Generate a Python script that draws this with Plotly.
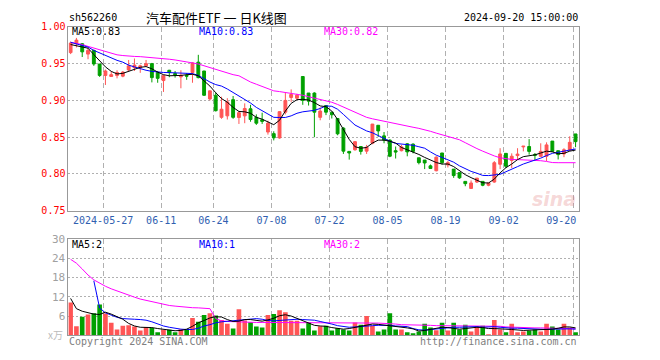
import plotly.graph_objects as go
import pandas as pd

# The page body adds an 8px margin; the figure is kept inside the 660x360 window
# (no overflow) and laid out in window pixels minus that margin.
OFF = 8
W, H = 660 - 2 * OFF, 360 - 2 * OFF - 4

# ---------------- data ----------------
holidays = ("2024-06-10", "2024-09-16", "2024-09-17")
dates = [d.strftime("%Y-%m-%d") for d in pd.bdate_range("2024-05-17", "2024-09-20")
         if d.strftime("%Y-%m-%d") not in holidays]

open_ = [0.965, 0.977, 0.977, 0.963, 0.968, 0.9495, 0.934, 0.9325, 0.934, 0.933,
         0.9415, 0.9445, 0.9445, 0.947, 0.950, 0.938, 0.927, 0.941, 0.9365, 0.932,
         0.9338, 0.938, 0.952, 0.940, 0.902, 0.907, 0.877, 0.879, 0.901, 0.8768,
         0.879, 0.8886, 0.877, 0.8737, 0.857, 0.8548, 0.849, 0.884, 0.904, 0.903,
         0.9325, 0.910, 0.910, 0.877, 0.893, 0.884, 0.8754, 0.8623, 0.8307, 0.8329,
         0.8373, 0.831, 0.8417, 0.8662, 0.8518, 0.846, 0.8316, 0.8316, 0.841, 0.8405,
         0.822, 0.8189, 0.811, 0.8044, 0.8285, 0.8123, 0.8066, 0.8018, 0.7899, 0.7803,
         0.789, 0.7899, 0.7846, 0.789, 0.8132, 0.828, 0.8184, 0.825, 0.8368, 0.8373,
         0.8263, 0.824, 0.8241, 0.8447, 0.8316, 0.8272, 0.8325, 0.8544]
high = [0.980, 0.985, 0.978, 0.971, 0.969, 0.9495, 0.942, 0.9395, 0.941, 0.940,
        0.955, 0.957, 0.9485, 0.955, 0.951, 0.940, 0.935, 0.9415, 0.940, 0.941,
        0.937, 0.952, 0.962, 0.940, 0.9135, 0.911, 0.905, 0.903, 0.906, 0.8855,
        0.896, 0.894, 0.881, 0.8833, 0.8724, 0.858, 0.8855, 0.910, 0.915, 0.909,
        0.9325, 0.910, 0.911, 0.8905, 0.893, 0.884, 0.8754, 0.8636, 0.8307, 0.8447,
        0.8373, 0.8395, 0.868, 0.8662, 0.857, 0.847, 0.8373, 0.8395, 0.842, 0.8417,
        0.822, 0.8189, 0.8128, 0.824, 0.8285, 0.8176, 0.8066, 0.8018, 0.7899, 0.7912,
        0.7943, 0.7899, 0.7877, 0.8175, 0.835, 0.828, 0.828, 0.835, 0.838, 0.8474,
        0.8285, 0.8417, 0.843, 0.8447, 0.8316, 0.835, 0.8513, 0.8544]
low = [0.963, 0.972, 0.959, 0.956, 0.947, 0.932, 0.921, 0.932, 0.930, 0.9315,
       0.940, 0.940, 0.9375, 0.9455, 0.9245, 0.924, 0.9115, 0.9315, 0.931, 0.9165,
       0.928, 0.924, 0.930, 0.906, 0.900, 0.885, 0.875, 0.874, 0.875, 0.868,
       0.869, 0.871, 0.8667, 0.868, 0.8535, 0.8456, 0.848, 0.881, 0.898, 0.901,
       0.894, 0.893, 0.850, 0.873, 0.880, 0.8754, 0.8526, 0.8272, 0.8195, 0.8316,
       0.8263, 0.8272, 0.8404, 0.8504, 0.8417, 0.8228, 0.821, 0.8307, 0.824, 0.828,
       0.813, 0.8066, 0.8075, 0.8035, 0.8128, 0.8088, 0.7947, 0.7934, 0.7833, 0.7803,
       0.7877, 0.7833, 0.7833, 0.788, 0.8066, 0.808, 0.808, 0.8197, 0.8307, 0.8263,
       0.8184, 0.823, 0.8175, 0.830, 0.8197, 0.8228, 0.8316, 0.8364]
close = [0.978, 0.982, 0.966, 0.968, 0.9495, 0.934, 0.940, 0.935, 0.938, 0.9385,
         0.947, 0.948, 0.947, 0.950, 0.931, 0.930, 0.9335, 0.938, 0.935, 0.934,
         0.933, 0.951, 0.931, 0.907, 0.913, 0.886, 0.888, 0.898, 0.877, 0.8833,
         0.889, 0.874, 0.869, 0.8715, 0.869, 0.8491, 0.8847, 0.900, 0.908, 0.907,
         0.900, 0.899, 0.884, 0.8855, 0.884, 0.8805, 0.8546, 0.831, 0.8285, 0.8439,
         0.8307, 0.8364, 0.8678, 0.8585, 0.846, 0.8241, 0.8298, 0.8368, 0.830, 0.8307,
         0.8154, 0.8149, 0.8075, 0.8228, 0.8154, 0.8154, 0.7978, 0.7947, 0.7868, 0.7877,
         0.7943, 0.7846, 0.7877, 0.8153, 0.8272, 0.8105, 0.8241, 0.827, 0.8377, 0.8307,
         0.8254, 0.8307, 0.8395, 0.8307, 0.8263, 0.8329, 0.843, 0.8439]

ma5 = [0.976, 0.974, 0.9725, 0.971, 0.9623, 0.9535, 0.9456, 0.9395, 0.936, 0.9368,
       0.9395, 0.9425, 0.945, 0.946, 0.943, 0.9385, 0.935, 0.9335, 0.9335, 0.934,
       0.935, 0.9355, 0.9335, 0.926, 0.9195, 0.9105, 0.9025, 0.8975, 0.8905, 0.885,
       0.8845, 0.8825, 0.877, 0.8745, 0.8705, 0.867, 0.873, 0.8855, 0.896, 0.901,
       0.9015, 0.9005, 0.897, 0.8925, 0.8915, 0.8855, 0.874, 0.860, 0.847, 0.837,
       0.835, 0.836, 0.842, 0.846, 0.846, 0.8445, 0.842, 0.836, 0.833, 0.830,
       0.8265, 0.8225, 0.8185, 0.8155, 0.8135, 0.8135, 0.810, 0.804, 0.799, 0.795,
       0.7915, 0.788, 0.7877, 0.793, 0.8015, 0.8085, 0.8135, 0.8195, 0.8235, 0.8245,
       0.826, 0.8285, 0.831, 0.830, 0.8275, 0.828, 0.831, 0.8325]
ma10 = [0.979, 0.977, 0.975, 0.9725, 0.968, 0.9645, 0.961, 0.957, 0.9545, 0.952,
        0.948, 0.9455, 0.943, 0.941, 0.9395, 0.9385, 0.938, 0.9378, 0.9377, 0.937,
        0.9368, 0.9365, 0.934, 0.929, 0.925, 0.9215, 0.9195, 0.9155, 0.911, 0.9065,
        0.902, 0.8965, 0.8905, 0.886, 0.881, 0.877, 0.8768, 0.8768, 0.879, 0.8825,
        0.8845, 0.8855, 0.8865, 0.889, 0.8925, 0.892, 0.888, 0.881, 0.8735, 0.8665,
        0.8625, 0.8585, 0.856, 0.852, 0.848, 0.8445, 0.8415, 0.8405, 0.8404, 0.839,
        0.837, 0.835, 0.830, 0.8255, 0.8225, 0.8195, 0.816, 0.811, 0.807, 0.8035,
        0.801, 0.798, 0.7978, 0.7982, 0.7995, 0.803, 0.807, 0.810, 0.8135, 0.816,
        0.8185, 0.8215, 0.825, 0.828, 0.8295, 0.8307, 0.8325, 0.834]
ma30 = [0.979, 0.978, 0.976, 0.9735, 0.971, 0.9685, 0.966, 0.964, 0.962, 0.961,
        0.960, 0.9598, 0.9595, 0.959, 0.9585, 0.958, 0.957, 0.956, 0.955, 0.954,
        0.953, 0.951, 0.9495, 0.947, 0.945, 0.9415, 0.940, 0.937, 0.935, 0.9335,
        0.929, 0.925, 0.922, 0.919, 0.915, 0.913, 0.912, 0.911, 0.910, 0.9088,
        0.907, 0.905, 0.903, 0.9015, 0.900, 0.8975, 0.8945, 0.891, 0.887, 0.883,
        0.8795, 0.877, 0.875, 0.8735, 0.8715, 0.870, 0.868, 0.8665, 0.865, 0.8635,
        0.862, 0.8605, 0.858, 0.8555, 0.853, 0.851, 0.849, 0.8465, 0.8425, 0.838,
        0.8345, 0.831, 0.8275, 0.8245, 0.822, 0.8205, 0.8197, 0.8195, 0.8193, 0.819,
        0.8185, 0.818, 0.817, 0.8155, 0.8153, 0.8153, 0.8153, 0.8153]

vol = [10.2, 2.8, 5.8, 6.5, 6.9, 9.6, 6.8, 3.9, 1.8, 3.0,
       3.1, 2.7, 1.5, 2.6, 2.3, 0.9, 1.7, 1.7, 0.9, 1.9,
       1.7, 5.4, 4.2, 6.3, 6.9, 6.2, 4.8, 3.6, 2.1, 8.1,
       4.6, 4.1, 2.7, 2.4, 6.3, 6.6, 7.8, 7.2, 4.5, 4.5,
       2.1, 4.0, 1.5, 2.8, 3.0, 1.5, 2.2, 1.8, 1.5, 4.0,
       3.3, 6.0, 3.0, 1.2, 1.8, 6.9, 1.8, 1.8, 0.9, 0.6,
       1.2, 3.6, 2.4, 1.6, 3.9, 1.5, 3.9, 1.8, 3.3, 1.2,
       2.7, 3.0, 0.3, 4.8, 1.8, 0.9, 3.6, 0.9, 1.2, 1.5,
       1.8, 1.2, 3.6, 2.7, 1.8, 3.6, 2.4, 0.9]
vol_ma5 = [11.5, 8.3, 7.5, 7.0, 6.6, 6.5, 7.2, 6.6, 5.8, 5.0,
           3.7, 2.9, 2.5, 2.5, 2.4, 2.1, 1.8, 1.6, 1.4, 1.5,
           1.9, 2.8, 3.9, 4.6, 5.4, 5.8, 5.7, 4.9, 4.3, 4.4,
           4.9, 4.9, 4.6, 4.4, 4.8, 5.3, 6.1, 6.4, 6.0, 5.3,
           4.5, 3.8, 3.1, 2.9, 2.8, 2.4, 2.1, 1.9, 2.1, 2.5,
           2.9, 3.2, 3.5, 3.4, 3.2, 3.0, 2.9, 2.6, 2.3, 2.0,
           1.3, 1.5, 1.9, 2.1, 2.5, 2.4, 2.1, 1.9, 2.1, 2.4,
           2.5, 2.4, 2.1, 2.1, 2.1, 1.9, 1.8, 1.6, 1.5, 1.6,
           1.7, 1.6, 1.8, 1.9, 2.2, 2.6, 2.6, 2.3]
vol_ma10 = [None, None, None, None, 17.0, 8.5, 7.0, 6.2, 5.6, 5.2,
            5.0, 5.0, 4.9, 4.7, 4.2, 3.5, 2.9, 2.5, 2.1, 1.9,
            1.8, 1.8, 2.2, 2.9, 3.3, 3.9, 4.2, 4.4, 4.5, 4.7,
            5.0, 5.2, 5.2, 5.0, 4.6, 4.5, 4.6, 4.8, 5.0, 5.0,
            4.9, 4.8, 4.7, 4.3, 4.0, 3.5, 3.0, 2.7, 2.5, 2.6,
            2.8, 2.9, 3.0, 3.1, 3.2, 3.1, 2.9, 2.8, 2.7, 2.1,
            1.7, 1.6, 1.8, 2.0, 2.2, 2.4, 2.5, 2.5, 2.6, 2.8,
            2.7, 2.5, 2.6, 2.7, 2.5, 2.3, 2.2, 2.2, 2.1, 2.0,
            1.9, 1.8, 1.8, 1.9, 2.0, 2.0, 2.0, 1.9]
vol_ma30 = [23.7, 22.5, 20.7, 18.8, 17.3, 16.2, 15.3, 14.5, 13.8, 13.1,
            12.5, 11.9, 11.3, 10.9, 10.4, 10.0, 9.6, 9.3, 9.1, 8.9,
            8.7, 8.6, 8.55, 8.5, 8.3, 5.2, 4.5, 4.3, 4.2, 4.1,
            4.1, 4.1, 4.0, 4.0, 4.0, 4.0, 4.0, 4.0, 4.0, 4.0,
            4.0, 4.0, 4.0, 4.0, 4.0, 4.0, 4.0, 4.0, 4.0, 4.0,
            4.0, 4.0, 4.0, 3.8, 3.7, 3.7, 3.5, 3.3, 3.3, 3.2,
            3.2, 3.1, 3.1, 3.0, 3.0, 3.0, 3.0, 3.0, 3.0, 3.0,
            3.0, 3.0, 2.9, 2.9, 2.8, 2.6, 2.5, 2.5, 2.4, 2.4,
            2.3, 2.3, 2.2, 2.2, 2.1, 2.1, 2.1, 2.0]

tick_dates = ["2024-05-27", "2024-06-11", "2024-06-24", "2024-07-08", "2024-07-22",
              "2024-08-05", "2024-08-19", "2024-09-02", "2024-09-20"]
tick_text = ["2024-05-27", "06-11", "06-24", "07-08", "07-22",
             "08-05", "08-19", "09-02", "09-20\u00a0\u00a0\u00a0\u00a0"]
price_ticks = [0.75, 0.80, 0.85, 0.90, 0.95, 1.00]
price_tick_text = ["0.75", "0.80", "0.85", "0.90", "0.95", "1.00"]
vol_ticks = [6, 12, 18, 24, 30]
vol_tick_text = ["6", "12", "18", "24", "30"]

# ---------------- style ----------------
RED = "#ff5555"
GREEN = "#00a000"
GRID = "#b0b0b0"
BORDER = "#999999"
MONO = "DejaVu Sans Mono"
DATE_COLOR = "#3060b0"

x = list(range(len(close)))
tick_pos = [dates.index(d) - 0.4 for d in tick_dates]
bar_colors = [RED if c >= o else GREEN for o, c in zip(open_, close)]

def px_x(p):
    return (p - OFF) / W

def px_y(p):
    return 1 - (p - OFF) / H

x_dom = [px_x(70.5), px_x(598)]
x_rng = [-0.37, 87.55]

fig = go.Figure()
fig.add_trace(go.Candlestick(
    x=x, open=open_, high=high, low=low, close=close,
    increasing=dict(line=dict(color=RED, width=1), fillcolor=RED),
    decreasing=dict(line=dict(color=GREEN, width=1), fillcolor=GREEN),
    whiskerwidth=0, xaxis="x", yaxis="y", hoverinfo="skip", showlegend=False))
for series, col in ((ma30, "#ff00ff"), (ma10, "#0000ff"), (ma5, "#000000")):
    fig.add_trace(go.Scatter(x=x, y=series, mode="lines", line=dict(color=col, width=1),
                             xaxis="x", yaxis="y", hoverinfo="skip", showlegend=False))

fig.add_trace(go.Bar(x=x, y=vol, width=0.8, marker=dict(color=bar_colors, line=dict(width=0)),
                     xaxis="x2", yaxis="y2", hoverinfo="skip", showlegend=False))
for series, col in ((vol_ma30, "#ff00ff"), (vol_ma10, "#0000ff"), (vol_ma5, "#000000")):
    fig.add_trace(go.Scatter(x=x, y=series, mode="lines", line=dict(color=col, width=1),
                             xaxis="x2", yaxis="y2", hoverinfo="skip", showlegend=False,
                             connectgaps=False))

common_x = dict(range=x_rng, domain=x_dom, tickmode="array", tickvals=tick_pos,
                showgrid=True, gridcolor=GRID, gridwidth=1, griddash="5px,3px",
                zeroline=False, showline=True, mirror=True, linecolor=BORDER, linewidth=1,
                ticks="", fixedrange=True)

annotations = []

def ann(text, xp, yp, color="#000000", size=10, family=MONO, xanchor="left"):
    annotations.append(dict(text=text, x=px_x(xp), y=px_y(yp), xref="paper", yref="paper",
                            xanchor=xanchor, yanchor="middle", showarrow=False,
                            font=dict(family=family, size=size, color=color)))

ann("sh562260", 69, 12)
ann("汽车配件ETF 一 日K线图", 149, 12, size=13, family="Noto Sans CJK SC")
ann("2024-09-20 15:00:00", 599, 12, xanchor="right")
ann("MA5:0.83", 72, 26)
ann("MA10:0.83", 203, 26, color="#0000ff")
ann("MA30:0.82", 333, 26, color="#ff00ff")
ann("MA5:2", 72, 246)
ann("MA10:1", 203, 246, color="#0000ff")
ann("MA30:2", 333, 246, color="#ff00ff")
ann("x万", 47, 339, color="#bbbbbb", size=10, family="Noto Sans CJK SC")
ann("Copyright 2024 SINA.COM", 69, 346, color="#808080")
ann("http://finance.sina.com.cn", 598, 346, color="#808080", xanchor="right")
ann("<b><i>sina</i></b>", 597, 199, color="rgba(225,120,120,0.30)", size=19,
    family="DejaVu Sans", xanchor="right")

fig.update_layout(
    width=W, height=H, margin=dict(l=0, r=0, t=0, b=0),
    paper_bgcolor="white", plot_bgcolor="white", showlegend=False,
    boxgap=0.3, bargap=0.2,
    xaxis=dict(common_x, anchor="y", ticktext=tick_text, showticklabels=True,
               tickfont=dict(family=MONO, size=10, color=DATE_COLOR),
               rangeslider=dict(visible=False)),
    yaxis=dict(domain=[px_y(211.3), px_y(21.3)], range=[0.75, 1.0], anchor="x",
               tickmode="array", tickvals=price_ticks, ticktext=price_tick_text,
               showgrid=True, gridcolor=GRID, gridwidth=1, griddash="2px,2px",
               zeroline=False, showline=True, mirror=True, linecolor=BORDER, linewidth=1,
               ticks="", tickfont=dict(family=MONO, size=10, color="#ff0000"), fixedrange=True),
    xaxis2=dict(common_x, anchor="y2", showticklabels=False),
    yaxis2=dict(domain=[px_y(340), px_y(240.7)], range=[0, 30], anchor="x2",
                tickmode="array", tickvals=vol_ticks, ticktext=vol_tick_text,
                showgrid=True, gridcolor=GRID, gridwidth=1, griddash="2px,2px",
                zeroline=False, showline=True, mirror=True, linecolor=BORDER, linewidth=1,
                ticks="", tickfont=dict(family=MONO, size=11, color="#a0a0a0"), fixedrange=True),
    annotations=annotations,
)

fig.write_html("out.html")
